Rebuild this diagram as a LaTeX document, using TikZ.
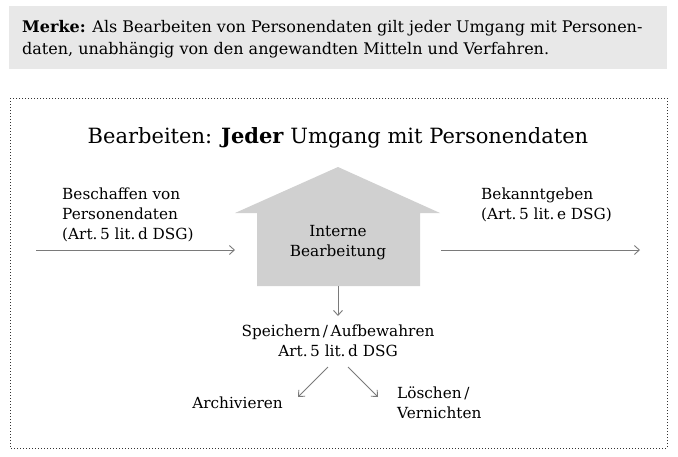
\documentclass[tikz,border=0pt]{standalone}
\usepackage{fontspec}
\setmainfont{DejaVu Serif}
\usetikzlibrary{arrows.meta}
\definecolor{boxgrey}{HTML}{E8E8E8}
\definecolor{housegrey}{HTML}{D0D0D0}
\definecolor{arrowgrey}{HTML}{7A7A7A}
\tikzset{
  lbl/.style={inner sep=0pt, font=\fontsize{15.3}{20}\selectfont},
  conn/.style={draw=arrowgrey, line width=0.9pt, -{Straight Barb[length=5pt,width=9pt]}},
}
\begin{document}
\begin{tikzpicture}[x=1pt,y=1pt]
\useasboundingbox (0,0) rectangle (678,-456);
% Merke box
\fill[boxgrey] (9,-6) rectangle (667,-69);
\node[inner sep=0pt, anchor=base west, text width=633pt, align=justify,
      font=\fontsize{16}{22}\selectfont] (merke) at (22,-32)
  {\textbf{Merke:} Als Bearbeiten von Personendaten gilt jeder Umgang mit Personen-\\daten, unabhängig von den angewandten Mitteln und Verfahren.};
% dotted frame
\draw[line width=1pt, dotted, black!80] (10,-98) rectangle (667,-448);
% title
\node[inner sep=0pt, anchor=base, font=\fontsize{21}{24}\selectfont] (title) at (338,-143)
  {Bearbeiten: \textbf{Jeder} Umgang mit Personendaten};
% house
\fill[housegrey] (338,-167) -- (440,-213) -- (420,-213) -- (420,-286) -- (257,-286) -- (257,-213) -- (235,-213) -- cycle;
\coordinate (houseL) at (235,-250);
\coordinate (houseR) at (441,-250);
\coordinate (houseB) at (338,-286);
\node[lbl, align=center, anchor=base] (intern) at (338,-256) {Interne\\Bearbeitung};
% left
\node[lbl, align=left, anchor=base west] (besch) at (62,-239) {Beschaffen von\\Personendaten\\(Art.\,5 lit.\,d DSG)};
\coordinate (lstart) at (36,-250);
\draw[conn] (lstart) -- (houseL);
% right
\node[lbl, align=left, anchor=base west] (bek) at (481,-219) {Bekanntgeben\\(Art.\,5 lit.\,e DSG)};
\coordinate (rend) at (640,-250);
\draw[conn] (houseR) -- (rend);
% down
\node[lbl, align=center, anchor=base] (speich) at (338,-356) {Speichern\,/\,Aufbewahren\\Art.\,5 lit.\,d DSG};
\draw[conn] (houseB) -- (338,-316);
\node[lbl, anchor=base east] (arch) at (283,-408) {Archivieren};
\node[lbl, align=left, anchor=base west] (losch) at (397,-418) {Löschen\,/\\Vernichten};
\draw[conn] (328,-367) -- (298,-397);
\draw[conn] (348,-367) -- (378,-397);
\end{tikzpicture}
\end{document}
